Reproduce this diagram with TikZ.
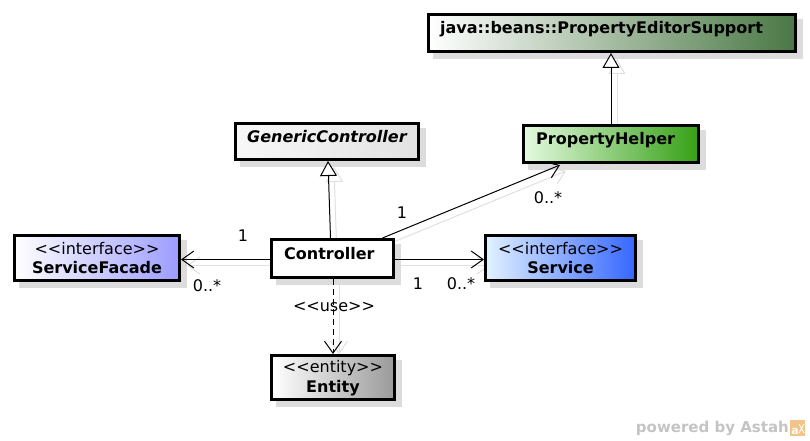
\documentclass[tikz,border=0pt]{standalone}
\usepackage{fontspec}
\setmainfont{DejaVu Sans}
\usetikzlibrary{arrows.meta,backgrounds}
\definecolor{shadowc}{HTML}{DCDCDC}
\definecolor{lineshadow}{HTML}{E0E0E0}
\definecolor{pesR}{HTML}{4A7845}
\definecolor{phL}{HTML}{E4FAE0}
\definecolor{phR}{HTML}{36A015}
\definecolor{gcL}{HTML}{F8F8F8}
\definecolor{gcR}{HTML}{E2E2E2}
\definecolor{sfR}{HTML}{9C9CFF}
\definecolor{svL}{HTML}{E2F2FF}
\definecolor{svR}{HTML}{3566FF}
\definecolor{enR}{HTML}{9A9A9A}
\definecolor{wmark}{HTML}{C4C4C4}
\definecolor{iconc}{HTML}{F2C48A}
\tikzset{
  umlbox/.style={draw=black, line width=3pt, rectangle, inner sep=0pt},
  txt/.style={inner sep=0pt, font=\fontsize{16}{19}\selectfont\bfseries},
  stxt/.style={inner sep=0pt, align=center, font=\fontsize{16}{19.5}\selectfont},
  mult/.style={inner sep=0pt, font=\fontsize{16}{19}\selectfont},
  edge/.style={draw=black, line width=1pt},
  gen/.style={edge, -{Triangle[open, length=15pt, width=17pt, fill=white, line width=1pt]}},
  assoc/.style={edge, -{Straight Barb[length=12pt, width=17pt, line width=1pt]}},
  dep/.style={edge, dash pattern=on 6pt off 4pt, -{Straight Barb[length=12pt, width=17pt, line width=1pt]}},
  ghost/.style={draw=lineshadow, line width=1pt},
}
\begin{document}
\begin{tikzpicture}[x=1pt, y=-1pt]
\useasboundingbox (0,0) rectangle (810,441);

% boxes
\node[umlbox, minimum width=367pt, minimum height=37pt, left color=white, right color=pesR, shading angle=90] (pes) at (612,33) {};
\node[umlbox, minimum width=183pt, minimum height=36pt, left color=gcL, right color=gcR, shading angle=90] (gc) at (327,141.5) {};
\node[umlbox, minimum width=175pt, minimum height=37pt, left color=phL, right color=phR, shading angle=90] (ph) at (611,144) {};
\node[umlbox, minimum width=165pt, minimum height=45pt, left color=white, right color=sfR, shading angle=90] (sf) at (97,258) {};
\node[umlbox, minimum width=122pt, minimum height=38pt, fill=white] (ctl) at (332.5,258.5) {};
\node[umlbox, minimum width=150pt, minimum height=45pt, left color=svL, right color=svR, shading angle=90] (sv) at (560.5,258) {};
\node[umlbox, minimum width=123pt, minimum height=44pt, left color=white, right color=enR, shading angle=90] (en) at (333,377.5) {};

% box texts
\node[txt, anchor=west] (pest) at (440,29) {java::beans::PropertyEditorSupport};
\node[txt, anchor=west, font=\fontsize{16}{19}\selectfont\bfseries\itshape] (gct) at (247,137) {GenericController};
\node[txt, anchor=west] (pht) at (536,140) {PropertyHelper};
\node[txt, anchor=west] (ctlt) at (284,254) {Controller};
\node[stxt] (sft) at (97,258) {<{}<interface>{}>\\\textbf{ServiceFacade}};
\node[stxt] (svt) at (560.5,258) {<{}<interface>{}>\\\textbf{Service}};
\node[stxt] (ent) at (333,378) {<{}<entity>{}>\\\textbf{Entity}};

% connector end points
\coordinate (g1a) at ([xshift=0pt]ph.north);
\coordinate (g1b) at (ph.north |- pes.south);
\coordinate (g2a) at ([xshift=-2pt]ctl.north);
\coordinate (g2b) at ([xshift=1pt]gc.south);
\coordinate (a1a) at ([xshift=50pt]ctl.north);
\coordinate (a1b) at ([xshift=-51pt,yshift=-1pt]ph.south);
\coordinate (a2a) at ([yshift=-1pt]ctl.west);
\coordinate (a2b) at (sf.east |- a2a);
\coordinate (a3a) at ([yshift=-1pt]ctl.east);
\coordinate (a3b) at (sv.west |- a3a);
\coordinate (d1a) at ([xshift=0.5pt]ctl.south);
\coordinate (d1b) at (d1a |- en.north);

% shadows
\begin{scope}[on background layer]
  \fill[white] (0,0) rectangle (810,441);
  \foreach \n in {pes,gc,ph,sf,ctl,sv,en}{
    \fill[shadowc] ([shift={(6,6)}]\n.north west) rectangle ([shift={(6,6)}]\n.south east);
  }
  \draw[ghost, -{Triangle[open, length=15pt, width=17pt, line width=1pt]}] ([shift={(6,6)}]g1a) -- ([shift={(6,6)}]g1b);
  \draw[ghost, -{Triangle[open, length=15pt, width=17pt, line width=1pt]}] ([shift={(6,6)}]g2a) -- ([shift={(6,6)}]g2b);
  \draw[ghost, -{Straight Barb[length=12pt, width=17pt, line width=1pt]}] ([shift={(6,6)}]a1a) -- ([shift={(6,6)}]a1b);
  \draw[ghost, -{Straight Barb[length=12pt, width=17pt, line width=1pt]}] ([shift={(6,6)}]a2a) -- ([shift={(6,6)}]a2b);
  \draw[ghost, -{Straight Barb[length=12pt, width=17pt, line width=1pt]}] ([shift={(6,6)}]a3a) -- ([shift={(6,6)}]a3b);
  \draw[ghost, -{Straight Barb[length=12pt, width=17pt, line width=1pt]}] ([shift={(6,0)}]d1a) -- ([shift={(6,0)}]d1b);
\end{scope}

% connectors
\draw[gen] (g1a) -- (g1b);
\draw[gen] (g2a) -- (g2b);
\draw[assoc] (a1a) -- (a1b);
\draw[assoc] (a2a) -- (a2b);
\draw[assoc] (a3a) -- (a3b);
\draw[dep] (d1a) -- (d1b);

% labels
\node[mult] (m1) at (402,213) {1};
\node[mult] (m2) at (548,198) {0..*};
\node[mult] (m3) at (243,236) {1};
\node[mult] (m4) at (207,286) {0..*};
\node[mult] (m5) at (418,284) {1};
\node[mult] (m6) at (461,284) {0..*};
\node[mult] (use) at (334,307) {<{}<use>{}>};

% watermark
\node[inner sep=0pt, anchor=east, text=wmark, font=\fontsize{15}{18}\selectfont\bfseries] (wm) at (789,428) {powered by Astah};
\fill[iconc] (790,420) rectangle (805,436);
\node[inner sep=0pt, text=white, font=\fontsize{11}{12}\selectfont\bfseries] (ic) at (795,431) {a};
\draw[white, line width=0.8pt] (799,424) -- (804,433) (799,433) -- (804,424);
\end{tikzpicture}
\end{document}
